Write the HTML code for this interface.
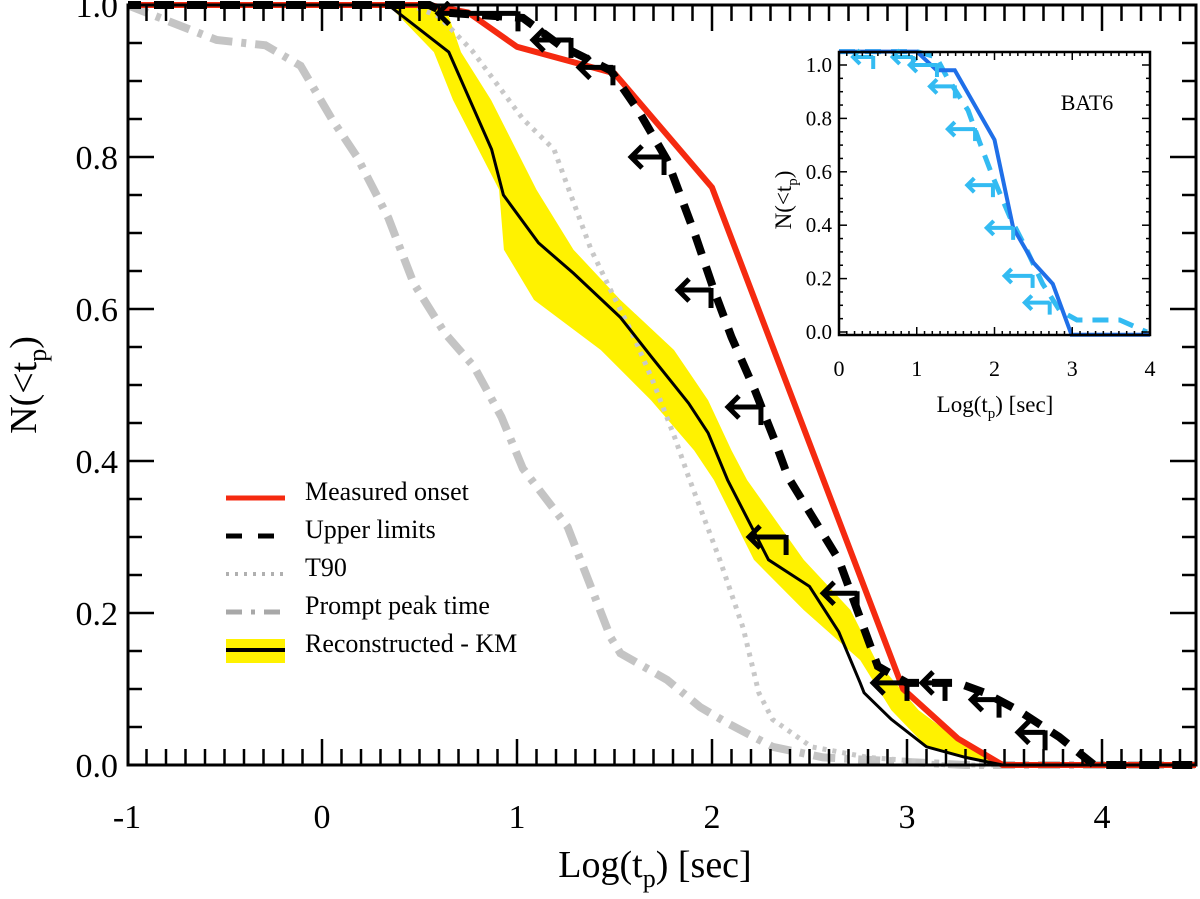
<!DOCTYPE html>
<html><head><meta charset="utf-8"><style>
html,body{margin:0;padding:0;background:#fff;}
svg{display:block;font-family:"Liberation Serif",serif;}
</style></head><body>
<svg id="chart" width="1200" height="899" viewBox="0 0 1200 899" xmlns="http://www.w3.org/2000/svg">
<g id="main"></g>
<g id="inset"></g>
</svg>
<script>
// ---- main chart data ----
const redX = [-1.2, 0.55, 0.75, 1.0, 1.5, 2.0, 2.98, 3.26, 3.49, 4.6];
const redV = [1.0, 1.0, 0.99, 0.945, 0.91, 0.76, 0.1, 0.035, 0.0, 0.0];
const ulX = [-1.2, 0.55, 0.63, 1.03, 1.22, 1.48, 1.62, 1.77, 1.91, 2.01, 2.10, 2.22, 2.32, 2.39, 2.65, 2.85, 3.0, 3.26, 3.4, 3.57, 3.78, 3.96, 4.6];
const ulV = [1.0, 1.0, 0.99, 0.983, 0.947, 0.914, 0.862, 0.796, 0.70, 0.625, 0.563, 0.493, 0.428, 0.379, 0.27, 0.13, 0.108, 0.108, 0.095, 0.072, 0.037, 0.0, 0.0];
const arrowTipX = [0.595, 1.082, 1.318, 1.585, 1.826, 2.082, 2.19, 2.57, 2.826, 3.077, 3.33, 3.569];
const arrowTailX = [1.005, 1.277, 1.492, 1.754, 1.995, 2.251, 2.38, 2.744, 3.0, 3.195, 3.472, 3.708];
const arrowV = [0.989, 0.954, 0.918, 0.80, 0.625, 0.471, 0.30, 0.226, 0.108, 0.108, 0.086, 0.043];
const t90X = [-1.2, 0.45, 0.6, 0.77, 1.03, 1.19, 1.38, 1.48, 1.6, 1.7, 1.81, 1.88, 2.04, 2.16, 2.24, 2.31, 2.51, 2.8, 3.0, 3.2, 4.6];
const t90V = [1.0, 1.0, 0.985, 0.94, 0.85, 0.81, 0.678, 0.625, 0.563, 0.503, 0.43, 0.379, 0.27, 0.18, 0.095, 0.06, 0.024, 0.01, 0.006, 0.0, 0.0];
const promptX = [-1.0, -0.54, -0.29, -0.11, 0.05, 0.18, 0.34, 0.47, 0.63, 0.78, 0.92, 1.03, 1.26, 1.36, 1.48, 1.53, 1.77, 1.94, 2.08, 2.31, 2.57, 3.0, 3.3, 4.6];
const promptV = [1.0, 0.954, 0.947, 0.92, 0.85, 0.80, 0.72, 0.634, 0.568, 0.524, 0.458, 0.39, 0.313, 0.247, 0.168, 0.147, 0.112, 0.076, 0.055, 0.024, 0.01, 0.004, 0.0, 0.0];
const kmX = [0.34, 0.65, 0.87, 0.93, 1.11, 1.29, 1.53, 1.69, 1.88, 1.98, 2.08, 2.29, 2.5, 2.65, 2.76, 2.78, 2.92, 3.1, 3.3, 3.49];
const kmV = [1.0, 0.938, 0.81, 0.75, 0.687, 0.647, 0.589, 0.537, 0.476, 0.437, 0.375, 0.27, 0.235, 0.175, 0.108, 0.095, 0.06, 0.024, 0.01, 0.0];
const bandLoX = [0.34, 0.574, 0.672, 0.908, 0.933, 1.087, 1.43, 1.687, 1.908, 2.01, 2.215, 2.47, 2.76, 2.92, 3.10, 3.39, 3.5];
const bandLoV = [1.0, 0.938, 0.875, 0.757, 0.678, 0.612, 0.546, 0.48, 0.414, 0.375, 0.27, 0.204, 0.138, 0.072, 0.024, 0.004, 0.0];
const bandHiX = [0.63, 0.713, 0.867, 1.10, 1.29, 1.53, 1.805, 1.98, 2.10, 2.18, 2.47, 2.71, 2.84, 3.06, 3.31, 3.5];
const bandHiV = [1.0, 0.938, 0.875, 0.757, 0.678, 0.612, 0.546, 0.48, 0.414, 0.375, 0.27, 0.204, 0.138, 0.072, 0.024, 0.0];
const xTicks = [-1, 0, 1, 2, 3, 4];
const xTickLabels = ["-1", "0", "1", "2", "3", "4"];
const yTicks = [0, 0.2, 0.4, 0.6, 0.8, 1.0];
const yTickLabels = ["0.0", "0.2", "0.4", "0.6", "0.8", "1.0"];
// ---- inset data ----
const inBlueX = [0, 1.0, 1.256, 1.49, 2.0, 2.24, 2.5, 2.75, 2.99, 4.0];
const inBlueV = [1.05, 1.05, 0.98, 0.98, 0.72, 0.39, 0.26, 0.18, -0.01, -0.01];
const inCyanX = [0, 1.0, 1.25, 1.385, 1.66, 1.81, 1.98, 2.2, 2.41, 2.62, 2.84, 3.06, 3.61, 3.96];
const inCyanV = [1.05, 1.05, 1.03, 0.956, 0.83, 0.71, 0.58, 0.43, 0.31, 0.18, 0.08, 0.045, 0.045, 0.0];
const inArrowTipX = [0.18, 0.69, 0.91, 1.17, 1.40, 1.65, 1.90, 2.13, 2.39];
const inArrowTailX = [0.44, 0.95, 1.26, 1.49, 1.75, 1.98, 2.24, 2.49, 2.71];
const inArrowV = [1.03, 1.03, 1.0, 0.92, 0.76, 0.55, 0.39, 0.21, 0.11];
const inXTicks = [0, 1, 2, 3, 4];
const inXTickLabels = ["0", "1", "2", "3", "4"];
const inYTicks = [0, 0.2, 0.4, 0.6, 0.8, 1.0];
const inYTickLabels = ["0.0", "0.2", "0.4", "0.6", "0.8", "1.0"];

const NS = "http://www.w3.org/2000/svg";
function mk(parent, tag, attrs, text) {
  const e = document.createElementNS(NS, tag);
  for (const k in attrs) e.setAttribute(k, attrs[k]);
  if (text !== undefined) e.textContent = text;
  parent.appendChild(e);
  return e;
}
const L = 128, R = 1196, T = 5, B = 765;
const sx = v => 322 + 195 * v;
const sy = v => 765 - 760 * v;
function pts(xs, vs, fx, fy) { return xs.map((x, i) => fx(x).toFixed(1) + "," + fy(vs[i]).toFixed(1)).join(" "); }

const main = document.getElementById("main");
const defs = mk(main, "defs", {});
const cp = mk(defs, "clipPath", {id: "clipMain"});
mk(cp, "rect", {x: L, y: T - 4, width: R - L, height: B - T + 8});
const plot = mk(main, "g", {"clip-path": "url(#clipMain)"});



const band = mk(plot, "polygon", {points: pts(bandLoX, bandLoV, sx, sy) + " " + pts(bandHiX.slice().reverse(), bandHiV.slice().reverse(), sx, sy), fill: "#fff200", stroke: "none"});



const prompt = mk(plot, "polyline", {points: pts(promptX, promptV, sx, sy), fill: "none", stroke: "#c4c4c4", "stroke-width": 8, "stroke-dasharray": "22 9 5 9"});



const t90 = mk(plot, "polyline", {points: pts(t90X, t90V, sx, sy), fill: "none", stroke: "#c8c8c8", "stroke-width": 5, "stroke-dasharray": "4 6"});



const red = mk(plot, "polyline", {points: pts(redX, redV, sx, sy), fill: "none", stroke: "#f52a10", "stroke-width": 6, "stroke-linejoin": "round"});



const ul = mk(plot, "polyline", {points: pts(ulX, ulV, sx, sy), fill: "none", stroke: "#000", "stroke-width": 8, "stroke-dasharray": "20 13"});



const km = mk(plot, "polyline", {points: pts(kmX, kmV, sx, sy), fill: "none", stroke: "#000", "stroke-width": 3});



function drawArrows(parent, tips, tails, vs, fx, fy, color, w, head, bar, name) {
  tips.forEach((t, i) => {
    const g = mk(parent, "g", {stroke: color, "stroke-width": w, fill: "none"});
    
    
    const x1 = fx(t), x2 = fx(tails[i]), y = fy(vs[i]);
    mk(g, "line", {x1: x1, y1: y, x2: x2, y2: y});
    mk(g, "polyline", {points: `${x1 + head},${y - head} ${x1},${y} ${x1 + head},${y + head}`});
    mk(g, "line", {x1: x2, y1: y - 2, x2: x2, y2: y + bar});
  });
}
drawArrows(plot, arrowTipX, arrowTailX, arrowV, sx, sy, "#000", 5, 11, 18, "upper-limit-arrow");

const frame = mk(main, "rect", {x: L, y: T, width: R - L, height: B - T, fill: "none", stroke: "#000", "stroke-width": 3});


const tk = mk(main, "g", {stroke: "#000", "stroke-width": 2.5});


for (let i = -10; i <= 45; i++) {
  const v = i / 10, x = sx(v);
  if (x < L + 1 || x > R - 1) continue;
  const len = (i % 10 === 0) ? 26 : 16;
  mk(tk, "line", {x1: x, y1: B, x2: x, y2: B - len});
  mk(tk, "line", {x1: x, y1: T, x2: x, y2: T + len});
}
for (let i = 0; i <= 20; i++) {
  const v = i / 20, y = sy(v);
  const len = (i % 4 === 0) ? 26 : 14;
  mk(tk, "line", {x1: L, y1: y, x2: L + len, y2: y});
  mk(tk, "line", {x1: R, y1: y, x2: R - len, y2: y});
}
xTicks.forEach((v, i) => {
  const t = mk(main, "text", {x: sx(v), y: 828, "font-size": 34, "text-anchor": "middle"}, xTickLabels[i]);
  
  
});
yTicks.forEach((v, i) => {
  const t = mk(main, "text", {x: 118, y: sy(v) + 12, "font-size": 34, "text-anchor": "end"}, yTickLabels[i]);
  
  
});
</script>
<script>
(function(){
const main = document.getElementById("main");
function mk(parent, tag, attrs, text) {
  const e = document.createElementNS("http://www.w3.org/2000/svg", tag);
  for (const k in attrs) e.setAttribute(k, attrs[k]);
  if (text !== undefined) e.textContent = text;
  parent.appendChild(e); return e;
}
const xt = mk(main, "text", {x: 655, y: 877, "font-size": 38, "text-anchor": "middle"});
xt.innerHTML = 'Log(t<tspan font-size="26" dy="10">p</tspan><tspan dy="-10">) [sec]</tspan>';


const yt = mk(main, "text", {x: 0, y: 0, "font-size": 38, "text-anchor": "middle", transform: "translate(36,385) rotate(-90)"});
yt.innerHTML = 'N(&lt;t<tspan font-size="26" dy="10">p</tspan><tspan dy="-10">)</tspan>';



const leg = mk(main, "g", {});


const labels = ["Measured onset", "Upper limits", "T90", "Prompt peak time", "Reconstructed - KM"];
const ys = [498, 536, 574, 612, 650];
ys.forEach((y, i) => {
  const g = mk(leg, "g", {});
  
  
  if (i === 0) mk(g, "line", {x1: 226, y1: y, x2: 285, y2: y, stroke: "#f52a10", "stroke-width": 5});
  if (i === 1) mk(g, "line", {x1: 226, y1: y, x2: 285, y2: y, stroke: "#000", "stroke-width": 5, "stroke-dasharray": "16 16"});
  if (i === 2) mk(g, "line", {x1: 226, y1: y, x2: 285, y2: y, stroke: "#b0b0b0", "stroke-width": 4, "stroke-dasharray": "3 6"});
  if (i === 3) mk(g, "line", {x1: 226, y1: y, x2: 285, y2: y, stroke: "#a8a8a8", "stroke-width": 5, "stroke-dasharray": "16 9 4 9"});
  if (i === 4) { mk(g, "rect", {x: 226, y: y - 11, width: 59, height: 24, fill: "#fff200"}); mk(g, "line", {x1: 226, y1: y, x2: 285, y2: y, stroke: "#000", "stroke-width": 4}); }
  mk(g, "text", {x: 305, y: y + 2, "font-size": 26}, labels[i]);
});

const ins = document.getElementById("inset");
const IL = 839, IR = 1150, IT = 52, IB = 335;
const ix = v => 839 + 77.75 * v;
const iy = v => 332 - 267 * v;
function pts(xs, vs) { return xs.map((x, i) => ix(x).toFixed(1) + "," + iy(vs[i]).toFixed(1)).join(" "); }
const bg = mk(ins, "rect", {x: IL, y: IT, width: IR - IL, height: IB - IT, fill: "#fff"});


const cy = mk(ins, "polyline", {points: pts(inCyanX, inCyanV), fill: "none", stroke: "#33bbf2", "stroke-width": 5, "stroke-dasharray": "16 10"});


const bl = mk(ins, "polyline", {points: pts(inBlueX, inBlueV), fill: "none", stroke: "#1f6fe8", "stroke-width": 4});


inArrowTipX.forEach((t, i) => {
  const g = mk(ins, "g", {stroke: "#33bbf2", "stroke-width": 4, fill: "none"});
  
  
  const x1 = ix(t), x2 = ix(inArrowTailX[i]), y = iy(inArrowV[i]);
  mk(g, "line", {x1: x1, y1: y, x2: x2, y2: y});
  mk(g, "polyline", {points: `${x1 + 7},${y - 7} ${x1},${y} ${x1 + 7},${y + 7}`});
  mk(g, "line", {x1: x2, y1: y - 1, x2: x2, y2: y + 12});
});
const ifr = mk(ins, "rect", {x: IL, y: IT, width: IR - IL, height: IB - IT, fill: "none", stroke: "#000", "stroke-width": 2.5});


const itk = mk(ins, "g", {stroke: "#000", "stroke-width": 1.5});


for (let i = 0; i <= 40; i++) {
  const x = ix(i / 10), len = (i % 10 === 0) ? 8 : 4;
  mk(itk, "line", {x1: x, y1: IB, x2: x, y2: IB - len});
  mk(itk, "line", {x1: x, y1: IT, x2: x, y2: IT + len});
}
for (let i = 0; i <= 20; i++) {
  const y = iy(i / 20), len = (i % 4 === 0) ? 8 : 4;
  mk(itk, "line", {x1: IL, y1: y, x2: IL + len, y2: y});
  mk(itk, "line", {x1: IR, y1: y, x2: IR - len, y2: y});
}
inXTicks.forEach((v, i) => {
  const t = mk(ins, "text", {x: ix(v), y: 376, "font-size": 22, "text-anchor": "middle"}, inXTickLabels[i]);
  
  
});
inYTicks.forEach((v, i) => {
  const t = mk(ins, "text", {x: 832, y: iy(v) + 7, "font-size": 21, "text-anchor": "end"}, inYTickLabels[i]);
  
  
});
const ixt = mk(ins, "text", {x: 995, y: 412, "font-size": 23, "text-anchor": "middle"});
ixt.innerHTML = 'Log(t<tspan font-size="15" dy="6">p</tspan><tspan dy="-6">) [sec]</tspan>';


const iyt = mk(ins, "text", {x: 0, y: 0, "font-size": 23, "text-anchor": "middle", transform: "translate(791,200) rotate(-90)"});
iyt.innerHTML = 'N(&lt;t<tspan font-size="15" dy="6">p</tspan><tspan dy="-6">)</tspan>';


const bat = mk(ins, "text", {x: 1087, y: 110, "font-size": 22, "text-anchor": "middle"}, "BAT6");


})();
</script>
</body></html>
